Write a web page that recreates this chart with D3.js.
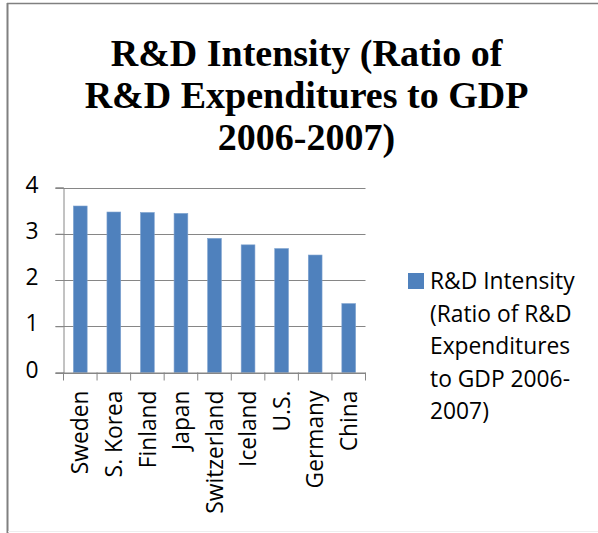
<!DOCTYPE html>
<html>
<head>
<meta charset="utf-8">
<script src="https://cdn.jsdelivr.net/npm/d3@7"></script>
<style>
  html, body { margin: 0; padding: 0; background: #fff; }
  svg { display: block; }
  text { font-family: "Open Sans", Lato, sans-serif; fill: #000; }
</style>
</head>
<body>
<svg id="chart" width="598" height="533"></svg>
<script>
// R&D intensity by country, 2006-2007
const countries = ["Sweden", "S. Korea", "Finland", "Japan", "Switzerland", "Iceland", "U.S.", "Germany", "China"];
const intensity = [3.6, 3.47, 3.46, 3.44, 2.9, 2.76, 2.68, 2.54, 1.49];
const yTicks = [0, 1, 2, 3, 4];
const titleLines = ["R&D Intensity (Ratio of", "R&D Expenditures to GDP", "2006-2007)"];
const legendLines = ["R&D Intensity", "(Ratio of R&D", "Expenditures", "to GDP 2006-", "2007)"];

const svg = d3.select("#chart");
const W = 598, H = 533;
const plot = { left: 63.5, right: 365.5, top: 187.5, bottom: 372.5 };
const gridColor = "#868686";
const barColor = "#4f81bd";
const bodySize = "22.8px";

// chart frame
svg.append("line").attr("x1", 7.5).attr("x2", 7.5).attr("y1", 3).attr("y2", H)
  .attr("stroke", "#808080").attr("stroke-width", 2);
svg.append("line").attr("x1", 7).attr("x2", W).attr("y1", 3.5).attr("y2", 3.5)
  .attr("stroke", "#808080").attr("stroke-width", 1.5);
svg.append("line").attr("x1", 8).attr("x2", W).attr("y1", 531.5).attr("y2", 531.5)
  .attr("stroke", "#eeeeee").attr("stroke-width", 1);

// title
svg.append("g").selectAll("text").data(titleLines).join("text")
  .attr("x", 306.5)
  .attr("y", (d, i) => 66 + i * 42)
  .attr("text-anchor", "middle")
  .style("font-family", "'Liberation Serif', 'DejaVu Serif', serif")
  .style("font-weight", "bold")
  .style("font-size", "38px")
  .text(d => d);

// scales
const x = d3.scaleBand().domain(countries).range([plot.left, plot.right]).padding(0);
const y = d3.scaleLinear().domain([0, 4]).range([plot.bottom, plot.top]);
const barW = x.bandwidth() * 0.41;

// gridlines
svg.append("g").selectAll("line").data(yTicks).join("line")
  .attr("x1", plot.left - 8).attr("x2", plot.right)
  .attr("y1", d => Math.round(y(d)) + 0.5).attr("y2", d => Math.round(y(d)) + 0.5)
  .attr("stroke", gridColor).attr("stroke-width", 1);

// y axis
const yAxis = svg.append("g")
  .attr("transform", `translate(${plot.left},0)`)
  .call(d3.axisLeft(y).tickValues(yTicks).tickFormat(d3.format("d")).tickSize(8).tickPadding(17));
yAxis.select(".domain").attr("stroke", gridColor);
yAxis.selectAll(".tick line").attr("stroke", gridColor);
yAxis.selectAll(".tick text")
  .style("font-family", "'Open Sans', sans-serif")
  .style("font-size", bodySize)
  .attr("dy", "0.2em");

// bars
svg.append("g").selectAll("rect").data(countries).join("rect")
  .attr("x", (d, i) => x(d) + x.bandwidth() / 2 - barW / 2)
  .attr("y", (d, i) => y(intensity[i]))
  .attr("width", barW)
  .attr("height", (d, i) => y(0) - y(intensity[i]))
  .attr("fill", barColor)
  .attr("stroke", "#7ea2cf")
  .attr("stroke-width", 0.6);

// x axis with ticks between categories
const boundaries = countries.map(d => x(d)).concat([plot.right]);
const xg = svg.append("g");
xg.append("line").attr("x1", plot.left).attr("x2", plot.right)
  .attr("y1", y(0) + 0.5).attr("y2", y(0) + 0.5).attr("stroke", gridColor);
xg.selectAll("line.tk").data(boundaries).join("line").attr("class", "tk")
  .attr("x1", d => d).attr("x2", d => d)
  .attr("y1", y(0)).attr("y2", y(0) + 8)
  .attr("stroke", gridColor);

// category labels, rotated
svg.append("g").selectAll("text").data(countries).join("text")
  .attr("transform", d => `translate(${x(d) + x.bandwidth() / 2},${plot.bottom + 18}) rotate(-90)`)
  .attr("text-anchor", "end")
  .attr("dy", "0.36em")
  .style("font-size", bodySize)
  .text(d => d);

// legend
const lg = svg.append("g");
lg.append("rect").attr("x", 408).attr("y", 273).attr("width", 16).attr("height", 16).attr("fill", barColor);
lg.selectAll("text").data(legendLines).join("text")
  .attr("x", 430)
  .attr("y", (d, i) => 289 + i * 32.5)
  .style("font-size", bodySize)
  .text(d => d);
</script>
</body>
</html>
